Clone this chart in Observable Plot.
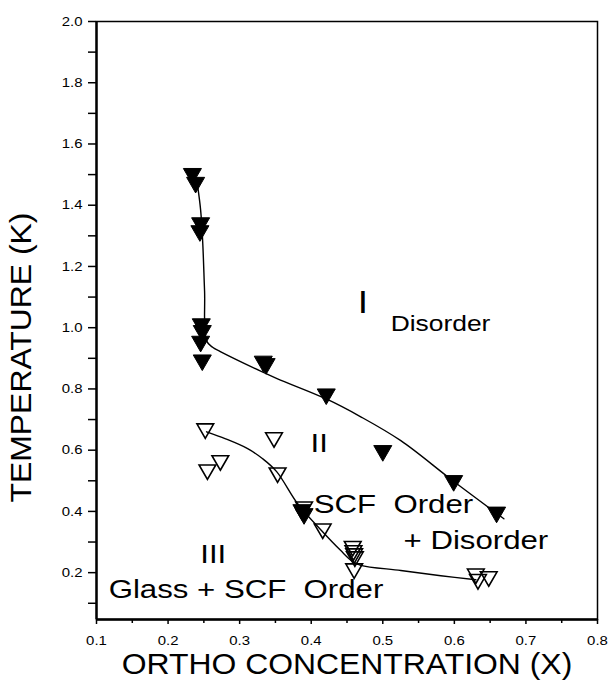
<!DOCTYPE html>
<html><head><meta charset="utf-8">
<script src="https://cdn.jsdelivr.net/npm/d3@7"></script>
<script src="https://cdn.jsdelivr.net/npm/@observablehq/plot@0.6"></script>
<style>body{margin:0;background:#fff} svg text{white-space:pre}</style>
</head><body><div id="chart"></div>
<script>
// Filled triangles (upper transition)
const filledX = [0.234, 0.2385, 0.2455, 0.2445, 0.2464, 0.2478, 0.2455, 0.2478, 0.333, 0.337, 0.421, 0.500, 0.599, 0.659, 0.387, 0.390];
const filledY = [1.503, 1.474, 1.342, 1.316, 1.012, 0.990, 0.955, 0.894, 0.890, 0.882, 0.783, 0.598, 0.500, 0.397, 0.405, 0.392];
// Open triangles (lower transition)
const openX = [0.252, 0.348, 0.255, 0.273, 0.353, 0.390, 0.416, 0.458, 0.459, 0.460, 0.461, 0.460, 0.630, 0.633, 0.648];
const openY = [0.670, 0.641, 0.536, 0.566, 0.526, 0.415, 0.343, 0.286, 0.272, 0.262, 0.252, 0.213, 0.196, 0.178, 0.187];
// Guide curves drawn through the data
const fitFilledX = [0.2413, 0.2455, 0.2483, 0.2510, 0.2538, 0.2622, 0.2730, 0.3294, 0.3530, 0.4203, 0.4692, 0.5252, 0.5979, 0.6692];
const fitFilledY = [1.463, 1.384, 1.284, 1.120, 0.957, 0.936, 0.922, 0.858, 0.833, 0.768, 0.709, 0.631, 0.500, 0.376];
const fitOpenX = [0.2538, 0.2804, 0.3112, 0.3322, 0.3517, 0.3811, 0.4133, 0.4413, 0.4580, 0.4692, 0.5252, 0.5811, 0.6301];
const fitOpenY = [0.660, 0.637, 0.605, 0.572, 0.530, 0.425, 0.340, 0.272, 0.236, 0.224, 0.207, 0.190, 0.177];
// Axis ticks
const xTicks = [0.1, 0.2, 0.3, 0.4, 0.5, 0.6, 0.7, 0.8];
const xMinor = [0.15, 0.25, 0.35, 0.45, 0.55, 0.65, 0.75];
const yTicks = [0.2, 0.4, 0.6, 0.8, 1.0, 1.2, 1.4, 1.6, 1.8, 2.0];
const yMinor = [0.1, 0.3, 0.5, 0.7, 0.9, 1.1, 1.3, 1.5, 1.7, 1.9];
// Region labels
const labelText = ["II", "SCF  Order", "+ Disorder", "III", "Glass + SCF  Order"];
const labelX = [0.399, 0.4035, 0.529, 0.245, 0.117];
const labelY = [0.593, 0.396, 0.278, 0.233, 0.118];
const subText = ["Disorder"], subX = [0.511], subY = [0.990];
const bigLabel = ["I"], bigX = [0.465], bigY = [1.049];
const xTitle = "ORTHO CONCENTRATION (X)";
const yTitle = "TEMPERATURE (K)";

const filled = filledX.map((x, i) => ({x, y: filledY[i]}));
const open = openX.map((x, i) => ({x, y: openY[i]}));
const fitFilled = fitFilledX.map((x, i) => ({x, y: fitFilledY[i]}));
const fitOpen = fitOpenX.map((x, i) => ({x, y: fitOpenY[i]}));
const labels = labelText.map((t, i) => ({t, x: labelX[i], y: labelY[i]}));
const sub = subText.map((t, i) => ({t, x: subX[i], y: subY[i]}));
const big = bigLabel.map((t, i) => ({t, x: bigX[i], y: bigY[i]}));

const triDown = {
  draw(ctx, size) {
    const y = Math.sqrt(size / (3 * Math.sqrt(3)));
    ctx.moveTo(0, 2 * y);
    ctx.lineTo(Math.sqrt(3) * y, -y);
    ctx.lineTo(-Math.sqrt(3) * y, -y);
    ctx.closePath();
  }
};

const font = "'Liberation Sans', Arial, Helvetica, sans-serif";
const chart = Plot.plot({
  width: 608, height: 682,
  marginLeft: 96, marginRight: 11, marginTop: 21, marginBottom: 63,
  x: {domain: [0.1, 0.8]},
  y: {domain: [0.047, 2.0]},
  style: {fontFamily: font, fontSize: "13px", background: "white", color: "black"},
  marks: [
    Plot.line(fitFilled, {x: "x", y: "y", curve: "catmull-rom", stroke: "black", strokeWidth: 1.4}),
    Plot.line(fitOpen, {x: "x", y: "y", curve: "catmull-rom", stroke: "black", strokeWidth: 1.4}),
    Plot.dot(open, {x: "x", y: "y", symbol: triDown, r: 6.2, fill: "none", stroke: "black", strokeWidth: 1.6}),
    Plot.dot(filled, {x: "x", y: "y", symbol: triDown, r: 6.7, fill: "black", stroke: "black", strokeWidth: 1}),
    Plot.frame({stroke: "black", strokeWidth: 1.5}),
    Plot.ruleX([0.1], {stroke: "black", strokeWidth: 2.4}),
    Plot.ruleY([0.047], {stroke: "black", strokeWidth: 2.4}),
    Plot.axisX(xTicks, {anchor: "bottom", tickSize: 5, tickPadding: 11, strokeWidth: 1.5, tickFormat: d => d.toFixed(1), label: null}),
    Plot.axisX(xMinor, {anchor: "bottom", tickSize: 4, strokeWidth: 1.5, tickFormat: () => "", label: null}),
    Plot.axisY(yTicks, {anchor: "left", tickSize: 8, tickPadding: 6, strokeWidth: 1.5, tickFormat: d => d.toFixed(1), label: null}),
    Plot.axisY(yMinor, {anchor: "left", tickSize: 8, strokeWidth: 1.5, tickFormat: () => "", label: null}),
    Plot.text(labels, {x: "x", y: "y", text: "t", textAnchor: "start", lineAnchor: "bottom", fontSize: 26, fill: "black", ariaDescription: "annot"}),
    Plot.text(sub, {x: "x", y: "y", text: "t", textAnchor: "start", lineAnchor: "bottom", fontSize: 22, fill: "black", ariaDescription: "annot"}),
    Plot.text(big, {x: "x", y: "y", text: "t", textAnchor: "start", lineAnchor: "bottom", fontSize: 31, fill: "black", ariaDescription: "annot"}),
    Plot.text([xTitle], {frameAnchor: "bottom", textAnchor: "middle", dy: 45, lineAnchor: "middle", fontSize: 29, fill: "black", ariaDescription: "title"}),
    Plot.text([yTitle], {frameAnchor: "left", textAnchor: "middle", dx: -75, dy: 37, rotate: -90, lineAnchor: "middle", fontSize: 29, fill: "black", ariaDescription: "title"})
  ]
});

function stretch(sel, s) {
  chart.querySelectorAll(sel).forEach(t => {
    let tr = t.getAttribute("transform");
    if (!tr) {
      const x = t.getAttribute("x") || 0, y = t.getAttribute("y") || 0;
      t.setAttribute("x", 0); t.setAttribute("y", 0);
      tr = `translate(${x},${y})`;
    }
    t.setAttribute("transform", tr + ` scale(${s},1)`);
  });
}
stretch('g[aria-description="annot"] text', 1.2);
stretch('g[aria-description="title"] text', 1.1);
stretch('g[aria-label$="tick label"] text', 1.15);
document.getElementById("chart").appendChild(chart);
</script>
</body></html>
